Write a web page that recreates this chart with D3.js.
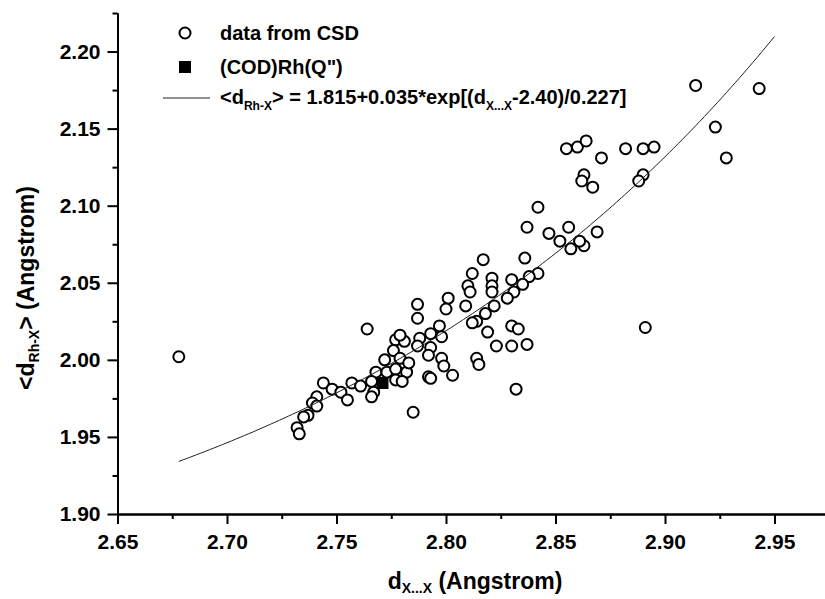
<!DOCTYPE html>
<html>
<head>
<meta charset="utf-8">
<script src="https://cdn.jsdelivr.net/npm/d3@7"></script>
<style>
  body { margin: 0; background: #fff; }
  svg text { font-family: "Liberation Sans", Arial, sans-serif; fill: #000; }
</style>
</head>
<body>
<svg width="825" height="599"></svg>
<script>
// d(X...X) vs <d(Rh-X)> from CSD
const csdX = [2.914, 2.943, 2.923, 2.928, 2.882, 2.890, 2.895, 2.871, 2.890, 2.888, 2.891,
  2.855, 2.860, 2.864, 2.863, 2.862, 2.867,
  2.842, 2.837, 2.856, 2.847, 2.852, 2.857, 2.863, 2.861, 2.869,
  2.817, 2.836, 2.812, 2.842, 2.838, 2.821, 2.830, 2.810, 2.821, 2.811, 2.835, 2.831, 2.821,
  2.801, 2.828, 2.809, 2.822, 2.800, 2.818, 2.814, 2.812, 2.830, 2.833, 2.819, 2.797,
  2.837, 2.823, 2.830, 2.798, 2.798, 2.799, 2.803, 2.814, 2.815, 2.832,
  2.787, 2.787, 2.764, 2.777, 2.781, 2.779, 2.788, 2.793, 2.787, 2.793, 2.776, 2.792,
  2.772, 2.779, 2.768, 2.773, 2.777, 2.782, 2.783, 2.792, 2.793, 2.766, 2.777, 2.780,
  2.744, 2.748, 2.752, 2.757, 2.761, 2.755, 2.767, 2.766, 2.785, 2.741, 2.739, 2.741,
  2.737, 2.735, 2.732, 2.733, 2.678];
const csdY = [2.178, 2.176, 2.151, 2.131, 2.137, 2.137, 2.138, 2.131, 2.120, 2.116, 2.021,
  2.137, 2.138, 2.142, 2.120, 2.116, 2.112,
  2.099, 2.086, 2.086, 2.082, 2.077, 2.072, 2.074, 2.077, 2.083,
  2.065, 2.066, 2.056, 2.056, 2.054, 2.053, 2.052, 2.048, 2.048, 2.044, 2.049, 2.044, 2.044,
  2.040, 2.040, 2.035, 2.035, 2.033, 2.030, 2.025, 2.024, 2.022, 2.020, 2.018, 2.022,
  2.010, 2.009, 2.009, 2.015, 2.001, 1.996, 1.990, 2.001, 1.997, 1.981,
  2.036, 2.027, 2.020, 2.013, 2.012, 2.016, 2.014, 2.017, 2.009, 2.008, 2.006, 2.003,
  2.000, 2.001, 1.992, 1.992, 1.994, 1.992, 1.998, 1.989, 1.988, 1.986, 1.987, 1.986,
  1.985, 1.981, 1.979, 1.985, 1.983, 1.974, 1.979, 1.976, 1.966, 1.976, 1.972, 1.970,
  1.964, 1.963, 1.956, 1.952, 2.002];

// (COD)Rh(Q")
const codX = [2.771];
const codY = [1.985];

// fit: <d> = a + b*exp[(x - x0)/w]
const fitA = 1.815, fitB = 0.035, fitX0 = 2.40, fitW = 0.227;
const fitFrom = 2.678, fitTo = 2.95;

const xTicks = [2.65, 2.70, 2.75, 2.80, 2.85, 2.90, 2.95];
const xMinor = [2.675, 2.725, 2.775, 2.825, 2.875, 2.925];
const yTicks = [1.90, 1.95, 2.00, 2.05, 2.10, 2.15, 2.20];
const yMinor = [1.925, 1.975, 2.025, 2.075, 2.125, 2.175, 2.225];

const svg = d3.select("svg");

const x = d3.scaleLinear().domain([2.65, 2.975]).range([117.5, 829.25]);
const y = d3.scaleLinear().domain([1.90, 2.225]).range([514, 13]);

const fmt = d3.format(".2f");

// axes
const gx = svg.append("g").attr("transform", "translate(0,514)");
gx.call(d3.axisBottom(x).tickValues(xTicks).tickFormat(fmt).tickSize(10).tickSizeOuter(0).tickPadding(10));
const gxm = svg.append("g").attr("transform", "translate(0,514)");
gxm.call(d3.axisBottom(x).tickValues(xMinor).tickFormat("").tickSize(5).tickSizeOuter(0));

const gy = svg.append("g").attr("transform", "translate(117.5,0)");
gy.call(d3.axisLeft(y).tickValues(yTicks).tickFormat(fmt).tickSize(10).tickSizeOuter(0).tickPadding(7));
const gym = svg.append("g").attr("transform", "translate(117.5,0)");
gym.call(d3.axisLeft(y).tickValues(yMinor).tickFormat("").tickSize(5).tickSizeOuter(0));

svg.selectAll(".domain").attr("stroke", "#000").attr("stroke-width", 2);
svg.selectAll(".tick line").attr("stroke", "#000").attr("stroke-width", 2);
svg.selectAll(".tick text")
  .attr("font-size", 21)
  .attr("font-weight", "bold")
  .attr("font-family", "Liberation Sans, Arial, sans-serif");

// data points
const pts = csdX.map((v, i) => ({x: v, y: csdY[i]}));
svg.append("g")
  .selectAll("circle")
  .data(pts)
  .enter().append("circle")
    .attr("cx", d => x(d.x))
    .attr("cy", d => y(d.y))
    .attr("r", 5.5)
    .attr("fill", "#fff")
    .attr("stroke", "#000")
    .attr("stroke-width", 2);

const cod = codX.map((v, i) => ({x: v, y: codY[i]}));
svg.append("g")
  .selectAll("rect")
  .data(cod)
  .enter().append("rect")
    .attr("x", d => x(d.x) - 6)
    .attr("y", d => y(d.y) - 6)
    .attr("width", 12)
    .attr("height", 12)
    .attr("fill", "#000");

// fitted curve
const fitXs = d3.range(fitFrom, fitTo + 0.0001, 0.002);
const line = d3.line()
  .x(d => x(d))
  .y(d => y(fitA + fitB * Math.exp((d - fitX0) / fitW)));
svg.append("path")
  .datum(fitXs)
  .attr("d", line)
  .attr("fill", "none")
  .attr("stroke", "#222")
  .attr("stroke-width", 1);

// legend
const lg = svg.append("g").attr("font-weight", "bold");
lg.append("circle").attr("cx", 185).attr("cy", 33).attr("r", 5.5)
  .attr("fill", "#fff").attr("stroke", "#000").attr("stroke-width", 2);
lg.append("rect").attr("x", 179).attr("y", 61).attr("width", 12).attr("height", 12).attr("fill", "#000");
lg.append("line").attr("x1", 163).attr("x2", 210).attr("y1", 98).attr("y2", 98)
  .attr("stroke", "#222").attr("stroke-width", 1);

lg.append("text").attr("x", 220).attr("y", 40).attr("font-size", 20).text("data from CSD");
lg.append("text").attr("x", 220).attr("y", 74).attr("font-size", 20).text("(COD)Rh(Q\")");
const ft = lg.append("text").attr("x", 220).attr("y", 104).attr("font-size", 20);
ft.append("tspan").text("<d");
ft.append("tspan").attr("font-size", 12).attr("dy", 6).text("Rh-X");
ft.append("tspan").attr("dy", -6).text("> = 1.815+0.035*exp[(d");
ft.append("tspan").attr("font-size", 12).attr("dy", 6).text("X...X");
ft.append("tspan").attr("dy", -6).text("-2.40)/0.227]");

// axis titles
const xt = svg.append("text").attr("x", 475).attr("y", 589)
  .attr("text-anchor", "middle").attr("font-size", 23).attr("font-weight", "bold");
xt.append("tspan").text("d");
xt.append("tspan").attr("font-size", 14).attr("dy", 4).text("X...X");
xt.append("tspan").attr("dy", -4).text(" (Angstrom)");

const yt = svg.append("text").attr("transform", "translate(34,288) rotate(-90)")
  .attr("text-anchor", "middle").attr("font-size", 23).attr("font-weight", "bold");
yt.append("tspan").text("<d");
yt.append("tspan").attr("font-size", 14).attr("dy", 5).text("Rh-X");
yt.append("tspan").attr("dy", -5).text("> (Angstrom)");
</script>
</body>
</html>
